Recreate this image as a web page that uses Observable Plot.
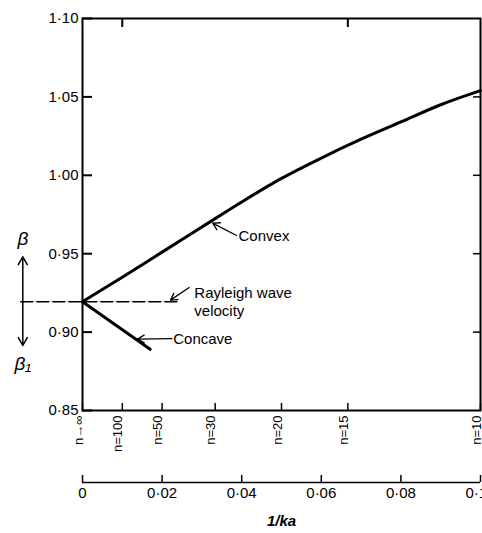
<!DOCTYPE html>
<html><head><meta charset="utf-8">
<script src="https://cdn.jsdelivr.net/npm/d3@7"></script>
<script src="https://cdn.jsdelivr.net/npm/@observablehq/plot@0.6"></script>
<style>html,body{margin:0;padding:0;background:#fff;overflow:hidden}</style>
</head><body><div id="chart"></div>
<script>
// Curves (x = 1/ka, y = phase velocity ratio)
const convexInvKa = [0, 0.01, 0.02, 0.03, 0.04, 0.05, 0.06, 0.07, 0.08, 0.09, 0.10];
const convexBeta  = [0.9194, 0.935, 0.951, 0.967, 0.983, 0.998, 1.011, 1.023, 1.034, 1.045, 1.054];
const concaveInvKa = [0, 0.017];
const concaveBeta  = [0.9194, 0.889];
const rayleighBeta = 0.9194;
const rayleighInvKa = [-0.0155, 0.0245];
// n scale (1/ka = 1/n)
const nValues = [Infinity, 100, 50, 30, 20, 15, 10];
const nLabels = ["n→∞", "n=100", "n=50", "n=30", "n=20", "n=15", "n=10"];
const topTickN = [100, 15];
// axis ticks
const xTicks = [0, 0.02, 0.04, 0.06, 0.08, 0.10];
const xTickLabels = ["0", "0·02", "0·04", "0·06", "0·08", "0·10"];
const yTicks = [0.85, 0.90, 0.95, 1.00, 1.05, 1.10];
const yTickLabels = ["0·85", "0·90", "0·95", "1·00", "1·05", "1·10"];
const rightTicks = [0.90, 0.95, 1.00, 1.05];
// annotations
const labelText = ["Convex", "Concave", "Rayleigh wave\nvelocity"];
const labelX = [0.0392, 0.0228, 0.0281];
const labelY = [0.9616, 0.8959, 0.9194];
const arrowX1 = [0.0387, 0.0225, 0.0268];
const arrowY1 = [0.9616, 0.8959, 0.9284];
const arrowX2 = [0.0327, 0.0138, 0.0221];
const arrowY2 = [0.9695, 0.8955, 0.9204];
const betaX = -0.015;
const betaLabels = ["β", "β₁"];
const betaLabelY = [0.9597, 0.880];
const betaArrowEnds = [0.948, 0.8915];

const nPos = nValues.map(n => 1 / n);
const labels = labelText.map((t, i) => ({t, x: labelX[i], y: labelY[i]}));
const arrows = arrowX1.map((x1, i) => ({x1, y1: arrowY1[i], x2: arrowX2[i], y2: arrowY2[i]}));
const convex = convexInvKa.map((x, i) => ({x, y: convexBeta[i]}));
const concave = concaveInvKa.map((x, i) => ({x, y: concaveBeta[i]}));
const rayleigh = rayleighInvKa.map(x => ({x, y: rayleighBeta}));
const betaArrows = betaArrowEnds.map(y2 => ({x1: betaX, y1: rayleighBeta, x2: betaX, y2}));
const betaText = betaLabels.map((t, i) => ({t, x: betaX, y: betaLabelY[i]}));

const font = "Liberation Sans, Arial, Helvetica, sans-serif";

const chart = Plot.plot({
  width: 482,
  height: 533,
  marginLeft: 82,
  marginRight: 2,
  marginTop: 18,
  marginBottom: 123,
  style: {fontFamily: font, fontSize: "15px", color: "#000", background: "#fff"},
  x: {domain: [0, 0.1]},
  y: {domain: [0.85, 1.10]},
  marks: [
    Plot.frame({stroke: "#000", strokeWidth: 2}),
    Plot.axisY(yTicks, {anchor: "left", tickSize: -10, tickPadding: 14, strokeWidth: 2,
      tickFormat: d => yTickLabels[yTicks.indexOf(d)], fontSize: 15, label: null}),
    Plot.axisY(rightTicks, {anchor: "right", tickSize: -8, strokeWidth: 1.5, tickFormat: () => "", label: null}),
    Plot.axisX(topTickN.map(n => 1 / n), {anchor: "top", tickSize: -8, strokeWidth: 2, tickFormat: () => "", label: null}),
    Plot.axisX(nPos, {anchor: "bottom", tickSize: -7, strokeWidth: 1.5, tickFormat: () => "", label: null}),
    Plot.text(nPos, {x: d => d, text: (d, i) => nLabels[i], frameAnchor: "bottom", rotate: -90,
      textAnchor: "end", dy: 5, fontSize: 13}),
    Plot.ruleY([0.85], {dy: 72, strokeWidth: 1.5}),
    Plot.axisX(xTicks, {anchor: "bottom", dy: 72, tickSize: -7, tickPadding: 12, strokeWidth: 1.5,
      tickFormat: d => xTickLabels[xTicks.indexOf(d)], fontSize: 15, label: null}),
    Plot.text(["1/ka"], {frameAnchor: "bottom", dy: 115, fontStyle: "italic", fontWeight: "bold", fontSize: 15}),
    Plot.line(rayleigh, {x: "x", y: "y", strokeWidth: 1.5, strokeDasharray: "12,4"}),
    Plot.line(convex, {x: "x", y: "y", strokeWidth: 3, curve: "monotone-x"}),
    Plot.line(concave, {x: "x", y: "y", strokeWidth: 3}),
    Plot.arrow(arrows, {x1: "x1", y1: "y1", x2: "x2", y2: "y2", strokeWidth: 1.3, headLength: 9}),
    Plot.text(labels, {x: "x", y: "y", text: "t", textAnchor: "start", fontSize: 15, lineHeight: 1.2}),
    Plot.arrow(betaArrows, {x1: "x1", y1: "y1", x2: "x2", y2: "y2", strokeWidth: 1.5, headLength: 9}),
    Plot.text(betaText, {x: "x", y: "y", text: "t", fontSize: 19, fontStyle: "italic"})
  ]
});
document.getElementById("chart").append(chart);
</script>
</body></html>
